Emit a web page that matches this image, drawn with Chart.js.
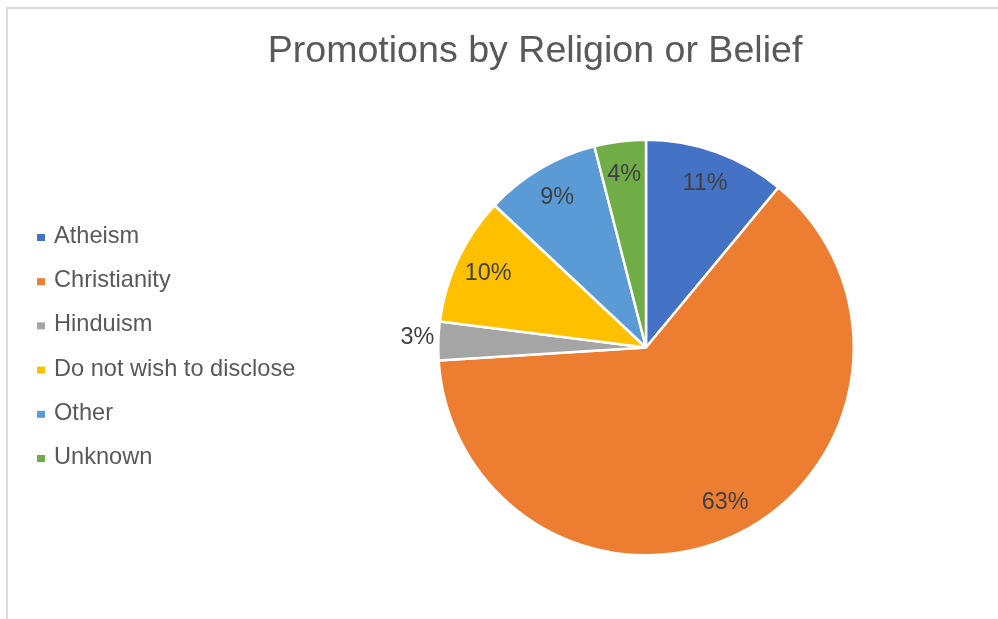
<!DOCTYPE html>
<html>
<head>
<meta charset="utf-8">
<script src="https://cdn.jsdelivr.net/npm/chart.js@4/dist/chart.umd.min.js"></script>
<style>
  html, body { margin: 0; padding: 0; background: #fff; }
  #wrap { position: relative; width: 998px; height: 619px; }
  canvas { display: block; }
</style>
</head>
<body>
<div id="wrap"><canvas id="c" width="998" height="619"></canvas></div>
<script>
const titleText = 'Promotions by Religion or Belief';
const categories = ['Atheism', 'Christianity', 'Hinduism', 'Do not wish to disclose', 'Other', 'Unknown'];
const shares = [11, 63, 3, 10, 9, 4];
const sliceColors = ['#4472C4', '#ED7D31', '#A5A5A5', '#FFC000', '#5B9BD5', '#70AD47'];
// slices whose label sits outside the pie
const outsideLabels = [false, false, true, false, false, false];

const FONT = '"Liberation Sans", Arial, Helvetica, sans-serif';

// frame, title, legend and slice labels
const decor = {
  id: 'decor',
  beforeDraw(chart) {
    const ctx = chart.ctx;
    ctx.save();
    ctx.fillStyle = '#ffffff';
    ctx.fillRect(0, 0, chart.width, chart.height);
    ctx.strokeStyle = '#d9d9d9';
    ctx.lineWidth = 2;
    ctx.beginPath();
    ctx.moveTo(7, chart.height);
    ctx.lineTo(7, 8);
    ctx.lineTo(chart.width, 8);
    ctx.stroke();
    ctx.restore();
  },
  afterDraw(chart) {
    const ctx = chart.ctx;
    ctx.save();
    // title
    ctx.fillStyle = '#595959';
    ctx.font = '37.6px ' + FONT;
    ctx.textAlign = 'center';
    ctx.textBaseline = 'alphabetic';
    ctx.fillText(titleText, 535, 62);

    // legend
    ctx.font = '23.6px ' + FONT;
    ctx.textAlign = 'left';
    categories.forEach((name, i) => {
      const base = 243 + i * 44.2;
      ctx.fillStyle = sliceColors[i];
      ctx.fillRect(37, base - 9, 8, 7);
      ctx.fillStyle = '#595959';
      ctx.fillText(name, 54, base);
    });

    // slice labels
    const meta = chart.getDatasetMeta(0);
    ctx.font = '23.4px ' + FONT;
    ctx.fillStyle = '#404040';
    ctx.textBaseline = 'middle';
    meta.data.forEach((arc, i) => {
      const p = arc.getProps(['x', 'y', 'startAngle', 'endAngle', 'outerRadius'], true);
      const mid = (p.startAngle + p.endAngle) / 2;
      const text = shares[i] + '%';
      if (outsideLabels[i]) {
        const r = p.outerRadius + 4;
        ctx.textAlign = 'right';
        ctx.fillText(text, p.x + Math.cos(mid) * r, p.y + Math.sin(mid) * r - 3);
      } else {
        const r = p.outerRadius * 0.84;
        ctx.textAlign = 'center';
        ctx.fillText(text, p.x + Math.cos(mid) * r, p.y + Math.sin(mid) * r);
      }
    });
    ctx.restore();
  }
};

new Chart(document.getElementById('c'), {
  type: 'pie',
  data: {
    labels: categories,
    datasets: [{
      data: shares,
      backgroundColor: sliceColors,
      borderColor: '#ffffff',
      borderWidth: 2.5
    }]
  },
  options: {
    responsive: false,
    animation: false,
    devicePixelRatio: 1,
    layout: { padding: { left: 437, right: 143, top: 138, bottom: 62 } },
    plugins: {
      legend: { display: false },
      title: { display: false },
      tooltip: { enabled: false }
    }
  },
  plugins: [decor]
});
</script>
</body>
</html>
